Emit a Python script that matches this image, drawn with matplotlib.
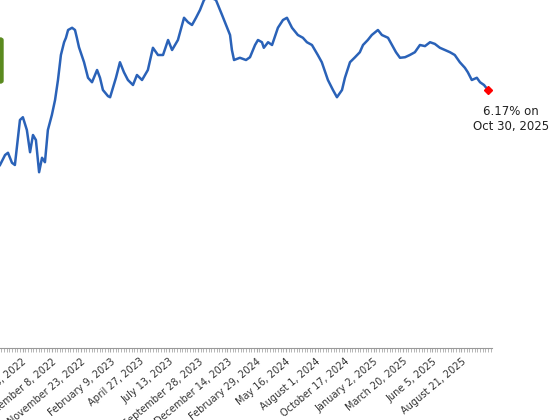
import matplotlib
matplotlib.use("Agg")
import matplotlib.pyplot as plt
import matplotlib.patches as mpatches
import numpy as np

weeks = [-19.5,-17.6,-16.5,-15,-13.9,-12,-10.9,-9.4,-8.2,-7.1,-6,-4.8,-3.7,-2.6,-1.5,0,1.2,2.3,3.4,4.6,5.3,6.1,7.6,8.7,9.4,10.2,12.1,13.6,15.1,17,18.1,19.2,21.1,21.9,24.1,25.6,27.1,28.6,30.5,32,33.9,36.1,38,39.9,41.8,43.7,45.2,47.4,49.7,51.2,52.7,54.2,55.7,57.2,58.7,61.7,64,65.5,67,67.7,68.5,70.7,73,74.5,76.4,77.5,79,79.7,81.3,82.8,85,86.9,88.4,90.3,92.5,94.4,95.9,97.8,100,101.5,103.8,105.7,107.2,109.1,110.2,112.1,114,115.8,117,118.8,120.3,122.6,124.1,126.4,127.9,129.4,130.9,132.8,134.6,136.5,138.4,140.3,142.2,144,145.9,147.8,149.7,151.5,153.4,155.3,156.4,157.9,159.8,161,162.5,164]
rates = [4.82,5.00,5.04,4.86,4.82,5.63,5.68,5.45,5.05,5.36,5.27,4.69,4.95,4.87,5.45,5.72,5.99,6.35,6.80,7.03,7.11,7.25,7.29,7.25,7.11,6.94,6.67,6.39,6.31,6.53,6.39,6.17,6.06,6.04,6.39,6.67,6.49,6.35,6.26,6.44,6.35,6.53,6.93,6.80,6.80,7.07,6.89,7.07,7.47,7.39,7.34,7.47,7.61,7.79,7.86,7.79,7.52,7.34,7.16,6.89,6.71,6.75,6.71,6.76,6.98,7.07,7.03,6.93,7.03,6.98,7.29,7.43,7.47,7.29,7.16,7.11,7.03,6.98,6.80,6.67,6.35,6.17,6.04,6.17,6.39,6.67,6.76,6.85,6.98,7.07,7.16,7.25,7.16,7.11,6.98,6.85,6.75,6.76,6.80,6.85,6.98,6.96,7.03,7.00,6.93,6.89,6.85,6.80,6.67,6.57,6.49,6.35,6.39,6.31,6.26,6.17]
tick_weeks = list(range(-11, 155, 11))
tick_labels = ["June 23, 2022", "September 8, 2022", "November 23, 2022", "February 9, 2023",
               "April 27, 2023", "July 13, 2023", "September 28, 2023", "December 14, 2023",
               "February 29, 2024", "May 16, 2024", "August 1, 2024", "October 17, 2024",
               "January 2, 2025", "March 20, 2025", "June 5, 2025", "August 21, 2025"]
last_label = "6.17% on\nOct 30, 2025"

fig = plt.figure(figsize=(5.6, 4.2), dpi=100)
ax = fig.add_axes([0, (420-348)/420, 492/560, 348/420])
ax.plot(weeks, rates, color="#2a62b8", lw=1.8, clip_on=True)
ax.plot(weeks[-1], rates[-1], marker="D", color="red", ms=4.5, clip_on=False)
ax.set_xlim(-19.5, 165.5)
ax.set_ylim(7.79 - 0.018*348, 7.79)
for s in ["left", "right", "top"]:
    ax.spines[s].set_visible(False)
ax.spines["bottom"].set_color("#999999")
ax.set_yticks([])
ax.set_xticks(tick_weeks)
ax.set_xticks(np.arange(-19, 166, 1), minor=True)
ax.set_xticklabels(tick_labels, rotation=40, ha="right", rotation_mode="anchor", fontsize=7, color="#333333")
ax.tick_params(axis="x", which="both", length=3, color="#aaaaaa", pad=3)
ax.text(weeks[-1] + 8.5, rates[-1] - 0.27, last_label, ha="center", va="top", fontsize=8.5, color="#222222")
fig.patches.append(mpatches.FancyBboxPatch((-4/560, 1-83/420), 7/560, 45/420, boxstyle="round,pad=0,rounding_size=0.005",
                                           transform=fig.transFigure, color="#5a8a1e"))
fig.savefig("out.png", dpi=100)
